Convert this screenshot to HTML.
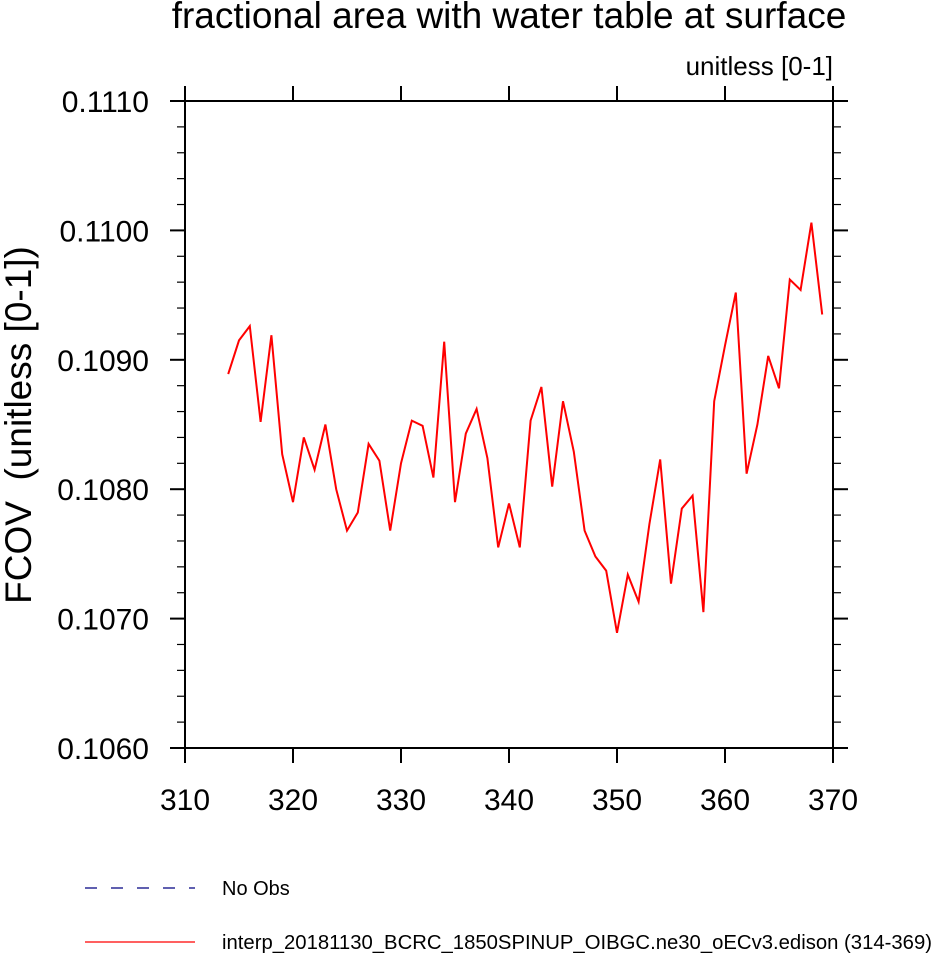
<!DOCTYPE html>
<html><head><meta charset="utf-8"><style>
body{margin:0;background:#fff;}
svg text{font-family:"Liberation Sans",sans-serif;fill:#000;}
</style></head><body>
<svg id="chart" width="932" height="953" xmlns="http://www.w3.org/2000/svg">
<text x="509" y="28" font-size="37" text-anchor="middle">fractional area with water table at surface</text>
<text x="833" y="75" font-size="26" text-anchor="end">unitless [0-1]</text>
<text transform="translate(31,425) rotate(-90)" font-size="37" text-anchor="middle" xml:space="preserve">FCOV  (unitless [0-1])</text>
<rect x="185" y="101" width="648" height="647" fill="none" stroke="#000" stroke-width="2"/>
<g id="ticks"></g>
<polyline id="series" fill="none" stroke="#ff0000" stroke-width="2"/>
<line x1="85" y1="888" x2="195" y2="888" stroke="#000080" stroke-width="1.2" stroke-dasharray="12,14"/>
<text x="222" y="895" font-size="20">No Obs</text>
<line x1="85" y1="942" x2="195" y2="942" stroke="#ff0000" stroke-width="1.2"/>
<text x="222" y="949" font-size="20" textLength="710" lengthAdjust="spacingAndGlyphs">interp_20181130_BCRC_1850SPINUP_OIBGC.ne30_oECv3.edison (314-369)</text>
</svg>
<script>
const years=[314,315,316,317,318,319,320,321,322,323,324,325,326,327,328,329,330,331,332,333,334,335,336,337,338,339,340,341,342,343,344,345,346,347,348,349,350,351,352,353,354,355,356,357,358,359,360,361,362,363,364,365,366,367,368,369];
const fcov=[0.10889,0.10915,0.10926,0.10852,0.10919,0.10827,0.10790,0.10840,0.10815,0.10850,0.10800,0.10768,0.10782,0.10835,0.10822,0.10768,0.10820,0.10853,0.10849,0.10809,0.10914,0.10790,0.10843,0.10862,0.10824,0.10755,0.10789,0.10755,0.10853,0.10879,0.10802,0.10868,0.10829,0.10768,0.10748,0.10737,0.10689,0.10734,0.10713,0.10773,0.10823,0.10727,0.10785,0.10795,0.10705,0.10868,0.10911,0.10952,0.10812,0.10850,0.10903,0.10878,0.10962,0.10954,0.11006,0.10935];
const xTicks=[310,320,330,340,350,360,370];
const yTicks=[0.1060,0.1070,0.1080,0.1090,0.1100,0.1110];
const yTickLabels=["0.1060","0.1070","0.1080","0.1090","0.1100","0.1110"];
const X0=185,X1=833,Y0=748,Y1=101;
const xs=v=>X0+(v-310)/60*(X1-X0);
const ys=v=>Y0-(v-0.106)/0.005*(Y0-Y1);
const NS="http://www.w3.org/2000/svg";
const g=document.getElementById('ticks');
function ln(x1,y1,x2,y2,w,name){const l=document.createElementNS(NS,'line');
l.setAttribute('x1',x1);l.setAttribute('y1',y1);l.setAttribute('x2',x2);l.setAttribute('y2',y2);
l.setAttribute('stroke','#000');l.setAttribute('stroke-width',w);


g.appendChild(l);}
function tx(x,y,s,anchor,name){const t=document.createElementNS(NS,'text');
t.setAttribute('x',x);t.setAttribute('y',y);t.setAttribute('font-size','30');t.setAttribute('text-anchor',anchor);t.textContent=s;


g.appendChild(t);}
xTicks.forEach(v=>{const x=xs(v);
ln(x,Y0,x,Y0+15,2,'x-major-tick');
ln(x,Y1,x,Y1-15,2,'x-top-tick');
tx(x,Y0+62,String(v),'middle','x-tick-label');});
yTicks.forEach((v,i)=>{const y=ys(v);
ln(X0-15,y,X0,y,2,'y-major-tick');ln(X1,y,X1+15,y,2,'y-major-tick');
tx(X0-36,y+11,yTickLabels[i],'end','y-tick-label');});
for(let k=1;k<25;k++){if(k%5===0)continue;const y=ys(0.106+k*0.0002);
ln(X0-8,y,X0,y,1.2,'y-minor-tick');ln(X1,y,X1+8,y,1.2,'y-minor-tick');}
document.getElementById('series').setAttribute('points',years.map((yr,i)=>xs(yr)+','+ys(fcov[i])).join(' '));
</script>
</body></html>
